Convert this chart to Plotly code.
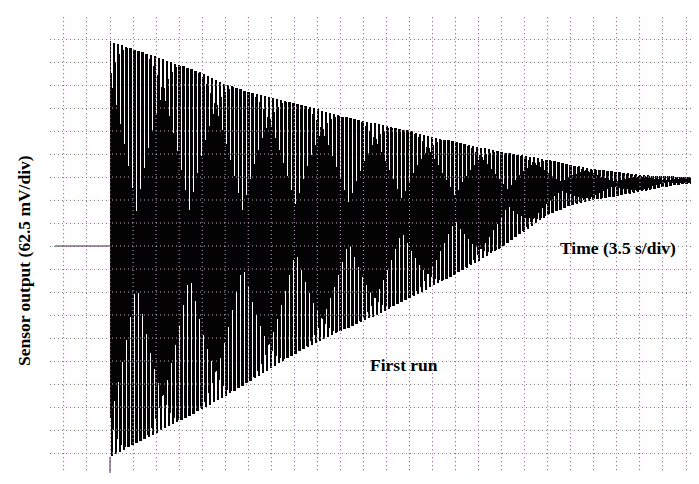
import numpy as np
import plotly.graph_objects as go
from numpy.lib.stride_tricks import sliding_window_view

# Scope scale settings
SEC_PER_DIV = 3.5
MV_PER_DIV = 62.5

# Envelope of the decaying trace, one reading per horizontal division (t = 0, 3.5, 7, ... s)
DIV_INDEX = list(range(26))
UPPER_MV = [557, 535, 514, 492, 470, 440, 419, 402, 389, 372, 353, 340, 326,
            313, 296, 283, 269, 255, 245, 234, 220, 209, 201, 193, 190, 188]
LOWER_MV = [-573, -541, -508, -476, -443, -408, -370, -332, -294, -261, -231, -204, -174,
            -141, -109, -76, -41, -3, 41, 84, 111, 125, 136, 147, 160, 169]

# Oscillation period of the sensor signal (s)
OSC_PERIOD_S = 0.6193

# Grid divisions
X_DIVS = list(range(-2, 26))
Y_DIVS = list(range(-9, 10))

# Axis windows (s, mV)
X_RANGE = [-9.114, 88.41]
Y_RANGE = [-616.8, 622.3]

# Screen raster of the scope display: 23.04 px per division, pen about 2.3 px wide
PX_PER_DIV = 23.04
PEN_PX = 2.3
col_w = SEC_PER_DIV / PX_PER_DIV
n_col = int(np.floor(X_RANGE[1] / col_w))
n_sub = 40

t_div = np.array(DIV_INDEX) * SEC_PER_DIV
t = (np.arange(n_col * n_sub) + 0.5) * col_w / n_sub
upper = np.interp(t, t_div, UPPER_MV)
lower = np.interp(t, t_div, LOWER_MV)
mid = (upper + lower) / 2
half = (upper - lower) / 2
sig = mid + half * np.cos(2 * np.pi * t / OSC_PERIOD_S)

# Each screen column shows the span of the trace seen by the pen around it
win = int(round(PEN_PX * n_sub))
pad_l = (win - n_sub) // 2
pad_r = win - n_sub - pad_l
padded = np.concatenate([np.full(pad_l, sig[0]), sig, np.full(pad_r, sig[-1])])
starts = np.arange(n_col) * n_sub
views = sliding_window_view(padded, win)[starts]
col_lo = views.min(axis=1)
col_hi = views.max(axis=1)
col_x = (np.arange(n_col) + 0.5) * col_w

fig = go.Figure()
fig.add_trace(go.Bar(
    x=col_x, y=col_hi - col_lo, base=col_lo, width=col_w,
    marker=dict(color="rgba(0,0,0,0.99)", line=dict(width=0)),
    hoverinfo="skip", showlegend=False,
))

# Light dotted graticule drawn over the trace
shapes = []
over = dict(color="rgba(235,205,235,0.85)", width=1, dash="0px,2px,1px,1px")
for k in X_DIVS:
    shapes.append(dict(type="line", xref="x", yref="paper", x0=k * SEC_PER_DIV, x1=k * SEC_PER_DIV,
                       y0=0, y1=1, layer="above", line=over))
for k in Y_DIVS:
    shapes.append(dict(type="line", xref="paper", yref="y", x0=0, x1=1,
                       y0=k * MV_PER_DIV, y1=k * MV_PER_DIV, layer="above", line=over))

# Axis stubs
axis_col = "#4a2a4a"
shapes.append(dict(type="line", xref="x", yref="y", x0=-8.355, x1=0, y0=0, y1=0,
                   layer="above", line=dict(color=axis_col, width=1)))
shapes.append(dict(type="line", xref="x", yref="y", x0=0, x1=0, y0=Y_RANGE[0], y1=LOWER_MV[0],
                   layer="above", line=dict(color=axis_col, width=1)))

label_font = dict(family="Liberation Serif", size=17.5, color="black", weight="bold")

fig.update_layout(
    width=699, height=484,
    margin=dict(l=50, r=7, t=17, b=11, pad=0),
    paper_bgcolor="white", plot_bgcolor="white",
    bargap=0, bargroupgap=0,
    showlegend=False,
    shapes=shapes,
    xaxis=dict(range=X_RANGE, tick0=0, dtick=SEC_PER_DIV, showticklabels=False, ticks="",
               showgrid=True, gridcolor="rgb(70,170,70)", gridwidth=1, griddash="1px,3px",
               zeroline=False, showline=False, fixedrange=True),
    yaxis=dict(range=Y_RANGE, tick0=0, dtick=MV_PER_DIV, showticklabels=False, ticks="",
               showgrid=True, gridcolor="rgb(115,130,115)", gridwidth=1, griddash="1px,3px",
               zeroline=False, showline=False, fixedrange=True),
    annotations=[
        dict(text="Time (3.5 s/div)", x=77.2, y=-5, xref="x", yref="y",
             showarrow=False, font=label_font, xanchor="center", yanchor="middle"),
        dict(text="First run", x=44.7, y=-323, xref="x", yref="y",
             showarrow=False, font=label_font, xanchor="center", yanchor="middle"),
        dict(text="Sensor output (62.5 mV/div)", x=-0.0405, y=0.467, xref="paper", yref="paper",
             showarrow=False, font=label_font, textangle=-90, xanchor="center", yanchor="middle"),
    ],
)

fig.write_html("out.html")
